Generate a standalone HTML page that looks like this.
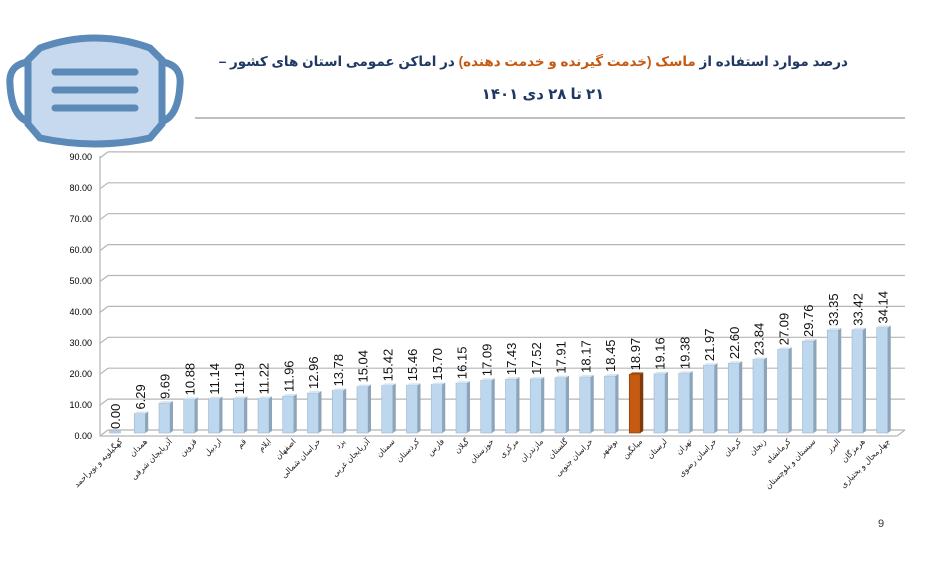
<!DOCTYPE html>
<html><head><meta charset="utf-8"><style>
body{margin:0;background:#fff;width:947px;height:561px;overflow:hidden}
svg{display:block}
.b rect{fill:#bdd7ee;stroke:#9fb6cc;stroke-width:.6}
.b path.s{fill:#8ea4b8}
.b path.t{fill:#d8e6f3}
.b text{font-size:13px;fill:#111}
.a rect{fill:#c55a11;stroke:#7f3a0b;stroke-width:.6}
.a path.s{fill:#7f3a0b}
.a path.t{fill:#a04a10}
.a text{font-size:13px;fill:#111}
.n text{font-size:8px;fill:#222;direction:rtl}
</style></head><body>
<svg width="947" height="561" xmlns="http://www.w3.org/2000/svg" font-family="Liberation Sans, DejaVu Sans, sans-serif">
<rect width="947" height="561" fill="#fff"/>
<g fill="none" stroke="#5b89b8" stroke-width="7">
<path d="M28 62 Q8 65 10 85 Q12 118 30 122"/>
<path d="M162 62 Q182 65 180 85 Q178 118 160 122"/>
<path d="M40 48 Q95 28 150 48 L162 60 L162 124 L150 138 Q95 150 40 138 L28 124 L28 60 Z" fill="#c7d9ee"/>
</g>
<g stroke="#5b89b8" stroke-width="7" stroke-linecap="round">
<line x1="55" y1="72" x2="135" y2="72"/><line x1="55" y1="90" x2="135" y2="90"/><line x1="55" y1="108" x2="135" y2="108"/>
</g>
<text x="848" y="66" direction="rtl" font-size="13.5" font-weight="bold" fill="#1f3864">درصد موارد استفاده از <tspan fill="#c55a11">ماسک (خدمت گیرنده و خدمت دهنده)</tspan> در اماکن عمومی استان های کشور –</text>
<text x="543" y="99" text-anchor="middle" font-size="15" font-weight="bold" fill="#1f3864" direction="rtl">۲۱ تا ۲۸ دی ۱۴۰۱</text>
<line x1="195" y1="118" x2="905" y2="118" stroke="#aaa" stroke-width="1.5"/>

<g stroke="#b5b5b5" stroke-width="1.2" fill="none">
<path d="M108 430H905M108 399.1H905M108 368.2H905M108 337.3H905M108 306.4H905M108 275.5H905M108 244.6H905M108 213.7H905M108 182.8H905M108 151.9H905"/>
<path d="M100 436L108 430M100 405.1L108 399.1M100 374.2L108 368.2M100 343.3L108 337.3M100 312.4L108 306.4M100 281.5L108 275.5M100 250.6L108 244.6M100 219.7L108 213.7M100 188.8L108 182.8M100 157.9L108 151.9"/>
<path d="M100 156V436H897L905 430"/>
</g>
<g font-size="9" fill="#000" text-anchor="end">
<text x="92" y="439">0.00</text><text x="92" y="408">10.00</text><text x="92" y="377">20.00</text><text x="92" y="346">30.00</text><text x="92" y="315">40.00</text><text x="92" y="284">50.00</text><text x="92" y="253">60.00</text><text x="92" y="222">70.00</text><text x="92" y="191">80.00</text><text x="92" y="160">90.00</text>
</g>

<g class="b" transform="translate(115,433)"><rect x="-5.5" y="-2" width="11" height="2"/><text transform="translate(5,-4) rotate(-90)">0.00</text></g>
<g class="b" transform="translate(139.75,413.56)"><rect x="-5.5" width="11" height="19.44"/><path class="s" d="M5.5 0l3-2v19.44l-3 2z"/><path class="t" d="M-5.5 0l3-2h11l-3 2z"/><text transform="translate(5,-4) rotate(-90)">6.29</text></g>
<g class="b" transform="translate(164.5,403.06)"><rect x="-5.5" width="11" height="29.94"/><path class="s" d="M5.5 0l3-2v29.94l-3 2z"/><path class="t" d="M-5.5 0l3-2h11l-3 2z"/><text transform="translate(5,-4) rotate(-90)">9.69</text></g>
<g class="b" transform="translate(189.25,399.38)"><rect x="-5.5" width="11" height="33.62"/><path class="s" d="M5.5 0l3-2v33.62l-3 2z"/><path class="t" d="M-5.5 0l3-2h11l-3 2z"/><text transform="translate(5,-4) rotate(-90)">10.88</text></g>
<g class="b" transform="translate(214,398.58)"><rect x="-5.5" width="11" height="34.42"/><path class="s" d="M5.5 0l3-2v34.42l-3 2z"/><path class="t" d="M-5.5 0l3-2h11l-3 2z"/><text transform="translate(5,-4) rotate(-90)">11.14</text></g>
<g class="b" transform="translate(238.75,398.42)"><rect x="-5.5" width="11" height="34.58"/><path class="s" d="M5.5 0l3-2v34.58l-3 2z"/><path class="t" d="M-5.5 0l3-2h11l-3 2z"/><text transform="translate(5,-4) rotate(-90)">11.19</text></g>
<g class="b" transform="translate(263.5,398.33)"><rect x="-5.5" width="11" height="34.67"/><path class="s" d="M5.5 0l3-2v34.67l-3 2z"/><path class="t" d="M-5.5 0l3-2h11l-3 2z"/><text transform="translate(5,-4) rotate(-90)">11.22</text></g>
<g class="b" transform="translate(288.25,396.04)"><rect x="-5.5" width="11" height="36.96"/><path class="s" d="M5.5 0l3-2v36.96l-3 2z"/><path class="t" d="M-5.5 0l3-2h11l-3 2z"/><text transform="translate(5,-4) rotate(-90)">11.96</text></g>
<g class="b" transform="translate(313,392.95)"><rect x="-5.5" width="11" height="40.05"/><path class="s" d="M5.5 0l3-2v40.05l-3 2z"/><path class="t" d="M-5.5 0l3-2h11l-3 2z"/><text transform="translate(5,-4) rotate(-90)">12.96</text></g>
<g class="b" transform="translate(337.75,390.42)"><rect x="-5.5" width="11" height="42.58"/><path class="s" d="M5.5 0l3-2v42.58l-3 2z"/><path class="t" d="M-5.5 0l3-2h11l-3 2z"/><text transform="translate(5,-4) rotate(-90)">13.78</text></g>
<g class="b" transform="translate(362.5,386.53)"><rect x="-5.5" width="11" height="46.47"/><path class="s" d="M5.5 0l3-2v46.47l-3 2z"/><path class="t" d="M-5.5 0l3-2h11l-3 2z"/><text transform="translate(5,-4) rotate(-90)">15.04</text></g>
<g class="b" transform="translate(387.25,385.35)"><rect x="-5.5" width="11" height="47.65"/><path class="s" d="M5.5 0l3-2v47.65l-3 2z"/><path class="t" d="M-5.5 0l3-2h11l-3 2z"/><text transform="translate(5,-4) rotate(-90)">15.42</text></g>
<g class="b" transform="translate(412,385.23)"><rect x="-5.5" width="11" height="47.77"/><path class="s" d="M5.5 0l3-2v47.77l-3 2z"/><path class="t" d="M-5.5 0l3-2h11l-3 2z"/><text transform="translate(5,-4) rotate(-90)">15.46</text></g>
<g class="b" transform="translate(436.75,384.49)"><rect x="-5.5" width="11" height="48.51"/><path class="s" d="M5.5 0l3-2v48.51l-3 2z"/><path class="t" d="M-5.5 0l3-2h11l-3 2z"/><text transform="translate(5,-4) rotate(-90)">15.70</text></g>
<g class="b" transform="translate(461.5,383.1)"><rect x="-5.5" width="11" height="49.9"/><path class="s" d="M5.5 0l3-2v49.9l-3 2z"/><path class="t" d="M-5.5 0l3-2h11l-3 2z"/><text transform="translate(5,-4) rotate(-90)">16.15</text></g>
<g class="b" transform="translate(486.25,380.19)"><rect x="-5.5" width="11" height="52.81"/><path class="s" d="M5.5 0l3-2v52.81l-3 2z"/><path class="t" d="M-5.5 0l3-2h11l-3 2z"/><text transform="translate(5,-4) rotate(-90)">17.09</text></g>
<g class="b" transform="translate(511,379.14)"><rect x="-5.5" width="11" height="53.86"/><path class="s" d="M5.5 0l3-2v53.86l-3 2z"/><path class="t" d="M-5.5 0l3-2h11l-3 2z"/><text transform="translate(5,-4) rotate(-90)">17.43</text></g>
<g class="b" transform="translate(535.75,378.86)"><rect x="-5.5" width="11" height="54.14"/><path class="s" d="M5.5 0l3-2v54.14l-3 2z"/><path class="t" d="M-5.5 0l3-2h11l-3 2z"/><text transform="translate(5,-4) rotate(-90)">17.52</text></g>
<g class="b" transform="translate(560.5,377.66)"><rect x="-5.5" width="11" height="55.34"/><path class="s" d="M5.5 0l3-2v55.34l-3 2z"/><path class="t" d="M-5.5 0l3-2h11l-3 2z"/><text transform="translate(5,-4) rotate(-90)">17.91</text></g>
<g class="b" transform="translate(585.25,376.85)"><rect x="-5.5" width="11" height="56.15"/><path class="s" d="M5.5 0l3-2v56.15l-3 2z"/><path class="t" d="M-5.5 0l3-2h11l-3 2z"/><text transform="translate(5,-4) rotate(-90)">18.17</text></g>
<g class="b" transform="translate(610,375.99)"><rect x="-5.5" width="11" height="57.01"/><path class="s" d="M5.5 0l3-2v57.01l-3 2z"/><path class="t" d="M-5.5 0l3-2h11l-3 2z"/><text transform="translate(5,-4) rotate(-90)">18.45</text></g>
<g class="a" transform="translate(634.75,374.38)"><rect x="-5.5" width="11" height="58.62"/><path class="s" d="M5.5 0l3-2v58.62l-3 2z"/><path class="t" d="M-5.5 0l3-2h11l-3 2z"/><text transform="translate(5,-4) rotate(-90)">18.97</text></g>
<g class="b" transform="translate(659.5,373.8)"><rect x="-5.5" width="11" height="59.2"/><path class="s" d="M5.5 0l3-2v59.2l-3 2z"/><path class="t" d="M-5.5 0l3-2h11l-3 2z"/><text transform="translate(5,-4) rotate(-90)">19.16</text></g>
<g class="b" transform="translate(684.25,373.12)"><rect x="-5.5" width="11" height="59.88"/><path class="s" d="M5.5 0l3-2v59.88l-3 2z"/><path class="t" d="M-5.5 0l3-2h11l-3 2z"/><text transform="translate(5,-4) rotate(-90)">19.38</text></g>
<g class="b" transform="translate(709,365.11)"><rect x="-5.5" width="11" height="67.89"/><path class="s" d="M5.5 0l3-2v67.89l-3 2z"/><path class="t" d="M-5.5 0l3-2h11l-3 2z"/><text transform="translate(5,-4) rotate(-90)">21.97</text></g>
<g class="b" transform="translate(733.75,363.17)"><rect x="-5.5" width="11" height="69.83"/><path class="s" d="M5.5 0l3-2v69.83l-3 2z"/><path class="t" d="M-5.5 0l3-2h11l-3 2z"/><text transform="translate(5,-4) rotate(-90)">22.60</text></g>
<g class="b" transform="translate(758.5,359.33)"><rect x="-5.5" width="11" height="73.67"/><path class="s" d="M5.5 0l3-2v73.67l-3 2z"/><path class="t" d="M-5.5 0l3-2h11l-3 2z"/><text transform="translate(5,-4) rotate(-90)">23.84</text></g>
<g class="b" transform="translate(783.25,349.29)"><rect x="-5.5" width="11" height="83.71"/><path class="s" d="M5.5 0l3-2v83.71l-3 2z"/><path class="t" d="M-5.5 0l3-2h11l-3 2z"/><text transform="translate(5,-4) rotate(-90)">27.09</text></g>
<g class="b" transform="translate(808,341.04)"><rect x="-5.5" width="11" height="91.96"/><path class="s" d="M5.5 0l3-2v91.96l-3 2z"/><path class="t" d="M-5.5 0l3-2h11l-3 2z"/><text transform="translate(5,-4) rotate(-90)">29.76</text></g>
<g class="b" transform="translate(832.75,329.95)"><rect x="-5.5" width="11" height="103.05"/><path class="s" d="M5.5 0l3-2v103.05l-3 2z"/><path class="t" d="M-5.5 0l3-2h11l-3 2z"/><text transform="translate(5,-4) rotate(-90)">33.35</text></g>
<g class="b" transform="translate(857.5,329.73)"><rect x="-5.5" width="11" height="103.27"/><path class="s" d="M5.5 0l3-2v103.27l-3 2z"/><path class="t" d="M-5.5 0l3-2h11l-3 2z"/><text transform="translate(5,-4) rotate(-90)">33.42</text></g>
<g class="b" transform="translate(882.25,327.51)"><rect x="-5.5" width="11" height="105.49"/><path class="s" d="M5.5 0l3-2v105.49l-3 2z"/><path class="t" d="M-5.5 0l3-2h11l-3 2z"/><text transform="translate(5,-4) rotate(-90)">34.14</text></g>

<g class="n">
<text transform="translate(123,442) rotate(-45)">کهگیلویه و بویراحمد</text>
<text transform="translate(147.75,442) rotate(-45)">همدان</text>
<text transform="translate(172.5,442) rotate(-45)">آذربایجان شرقی</text>
<text transform="translate(197.25,442) rotate(-45)">قزوین</text>
<text transform="translate(222,442) rotate(-45)">اردبیل</text>
<text transform="translate(246.75,442) rotate(-45)">قم</text>
<text transform="translate(271.5,442) rotate(-45)">ایلام</text>
<text transform="translate(296.25,442) rotate(-45)">اصفهان</text>
<text transform="translate(321,442) rotate(-45)">خراسان شمالی</text>
<text transform="translate(345.75,442) rotate(-45)">یزد</text>
<text transform="translate(370.5,442) rotate(-45)">آذربایجان غربی</text>
<text transform="translate(395.25,442) rotate(-45)">سمنان</text>
<text transform="translate(420,442) rotate(-45)">کردستان</text>
<text transform="translate(444.75,442) rotate(-45)">فارس</text>
<text transform="translate(469.5,442) rotate(-45)">گیلان</text>
<text transform="translate(494.25,442) rotate(-45)">خوزستان</text>
<text transform="translate(519,442) rotate(-45)">مرکزی</text>
<text transform="translate(543.75,442) rotate(-45)">مازندران</text>
<text transform="translate(568.5,442) rotate(-45)">گلستان</text>
<text transform="translate(593.25,442) rotate(-45)">خراسان جنوبی</text>
<text transform="translate(618,442) rotate(-45)">بوشهر</text>
<text transform="translate(642.75,442) rotate(-45)">میانگین</text>
<text transform="translate(667.5,442) rotate(-45)">لرستان</text>
<text transform="translate(692.25,442) rotate(-45)">تهران</text>
<text transform="translate(717,442) rotate(-45)">خراسان رضوی</text>
<text transform="translate(741.75,442) rotate(-45)">کرمان</text>
<text transform="translate(766.5,442) rotate(-45)">زنجان</text>
<text transform="translate(791.25,442) rotate(-45)">کرمانشاه</text>
<text transform="translate(816,442) rotate(-45)">سیستان و بلوچستان</text>
<text transform="translate(840.75,442) rotate(-45)">البرز</text>
<text transform="translate(865.5,442) rotate(-45)">هرمزگان</text>
<text transform="translate(890.25,442) rotate(-45)">چهارمحال و بختیاری</text>
</g>
<text x="878" y="527" font-size="11" fill="#333">9</text>
</svg>
</body></html>
